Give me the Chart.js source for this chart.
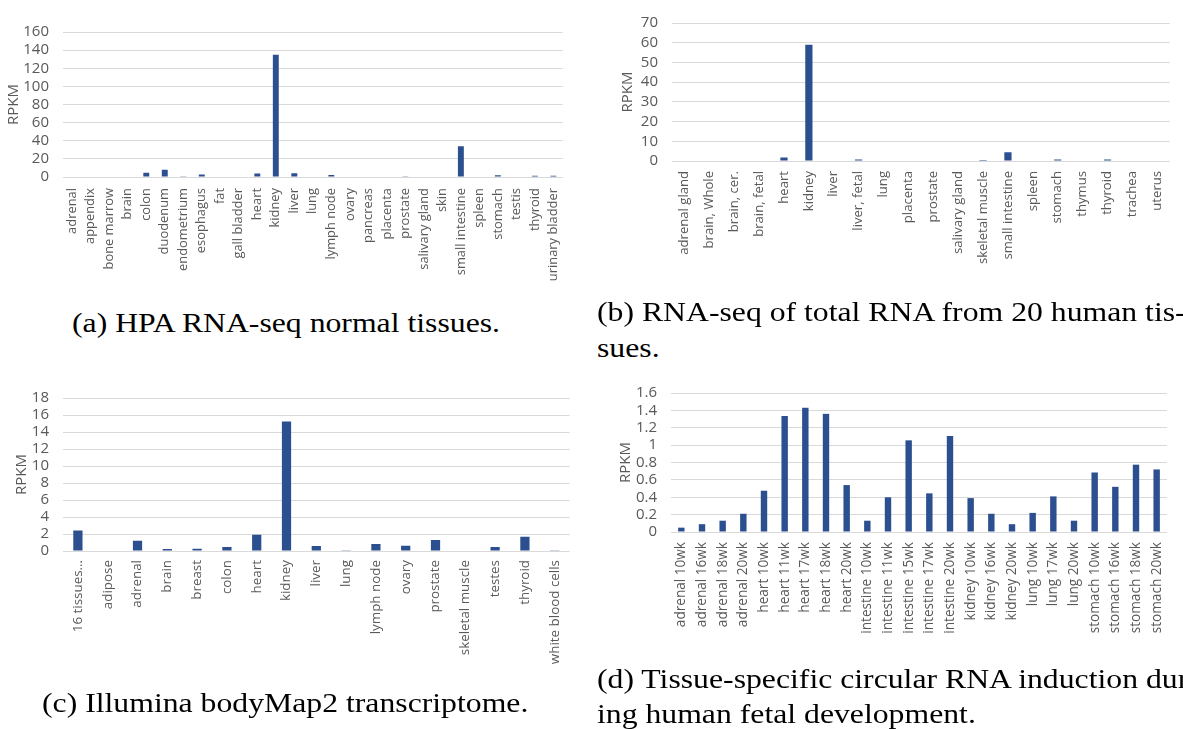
<!DOCTYPE html>
<html>
<head>
<meta charset="utf-8">
<script src="https://cdn.jsdelivr.net/npm/chart.js@4.4.1/dist/chart.umd.min.js"></script>
<style>
  body { margin: 0; width: 1183px; height: 729px; overflow: hidden; background: #fff; position: relative; }
  canvas { position: absolute; }
  .cap { position: absolute; font-family: "Liberation Serif", serif; font-size: 27px; line-height: 27px; color: #000; white-space: nowrap; transform-origin: 0 0; }
</style>
</head>
<body>
<canvas id="chartA" width="580" height="300" style="left:0;top:0"></canvas>
<canvas id="chartB" width="593" height="300" style="left:590px;top:0"></canvas>
<canvas id="chartC" width="580" height="359" style="left:0;top:370px"></canvas>
<canvas id="chartD" width="593" height="359" style="left:590px;top:370px"></canvas>

<div class="cap" style="left:72px;top:310px">(a) HPA RNA-seq normal tissues.</div>
<div class="cap" style="left:597px;top:299px">(b) RNA-seq of total RNA from 20 human tis-</div>
<div class="cap" style="left:597px;top:335px">sues.</div>
<div class="cap" style="left:42px;top:690px">(c) Illumina bodyMap2 transcriptome.</div>
<div class="cap" style="left:597px;top:666px">(d) Tissue-specific circular RNA induction dur-</div>
<div class="cap" style="left:597px;top:701px">ing human fetal development.</div>

<script>
// (a) HPA RNA-seq normal tissues
const hpaTissues = ["adrenal", "appendix", "bone marrow", "brain", "colon", "duodenum", "endometrium",
  "esophagus", "fat", "gall bladder", "heart", "kidney", "liver", "lung", "lymph node", "ovary",
  "pancreas", "placenta", "prostate", "salivary gland", "skin", "small intestine", "spleen",
  "stomach", "testis", "thyroid", "urinary bladder"];
const hpaRpkm = [0.5, 0.6, 0, 0, 4.8, 8, 0.3, 2.8, 0, 0, 3.8, 135, 4.2, 0, 2.3, 0.6,
  0, 0, 0.3, 0.6, 0, 34, 0, 1.8, 0.5, 1.3, 1.3];

// (b) RNA-seq of total RNA from 20 human tissues
const totalTissues = ["adrenal gland", "brain, Whole", "brain, cer.", "brain, fetal", "heart", "kidney",
  "liver", "liver, fetal", "lung", "placenta", "prostate", "salivary gland", "skeletal muscle",
  "small intestine", "spleen", "stomach", "thymus", "thyroid", "trachea", "uterus"];
const totalRpkm = [0.2, 0.2, 0, 0, 1.8, 59, 0, 0.7, 0.3, 0, 0.2, 0, 0.5, 4.4, 0, 0.7, 0, 0.7, 0, 0];

// (c) Illumina bodyMap2 transcriptome
const bodyMapTissues = ["16 tissues…", "adipose", "adrenal", "brain", "breast", "colon", "heart", "kidney",
  "liver", "lung", "lymph node", "ovary", "prostate", "skeletal muscle", "testes", "thyroid",
  "white blood cells"];
const bodyMapRpkm = [2.4, 0, 1.2, 0.25, 0.27, 0.47, 1.92, 15.25, 0.58, 0.08, 0.82, 0.62, 1.28, 0, 0.47, 1.68, 0.1];

// (d) fetal development
const fetalSamples = ["adrenal 10wk", "adrenal 16wk", "adrenal 18wk", "adrenal 20wk", "heart 10wk",
  "heart 11wk", "heart 17wk", "heart 18wk", "heart 20wk", "intestine 10wk", "intestine 11wk",
  "intestine 15wk", "intestine 17wk", "intestine 20wk", "kidney 10wk", "kidney 16wk", "kidney 20wk",
  "lung 10wk", "lung 17wk", "lung 20wk", "stomach 10wk", "stomach 16wk", "stomach 18wk", "stomach 20wk"];
const fetalRpkm = [0.05, 0.09, 0.13, 0.21, 0.475, 1.335, 1.43, 1.36, 0.54, 0.13, 0.40, 1.055, 0.445,
  1.105, 0.39, 0.21, 0.09, 0.22, 0.41, 0.13, 0.685, 0.52, 0.775, 0.72];

const barColor = "#2C4F8F";
const tickColor = "#595959";
const gridColor = "#D9D9D9";
const fontFamily = "'Open Sans', sans-serif";

Chart.defaults.font.family = fontFamily;

// font size that makes a given category label about as long as in the original figure
const measureCtx = document.createElement("canvas").getContext("2d");
function fitFont(text, targetLen) {
  measureCtx.font = "12px " + fontFamily;
  return +(12 * targetLen / measureCtx.measureText(text).width).toFixed(1);
}

function makeChart(id, labels, values, o) {
  return new Chart(document.getElementById(id), {
    type: "bar",
    data: {
      labels: labels,
      datasets: [{ data: values, backgroundColor: barColor, categoryPercentage: 1, barPercentage: o.bar }],
    },
    options: {
      responsive: false,
      animation: false,
      layout: { padding: { top: o.top, right: o.right, left: 0, bottom: 0 } },
      plugins: { legend: { display: false }, tooltip: { enabled: false } },
      scales: {
        x: {
          grid: { display: false, drawTicks: false },
          border: { display: false },
          ticks: { autoSkip: false, maxRotation: 90, minRotation: 90, padding: o.xPad, color: tickColor,
            font: { size: o.labelSize } },
          afterFit: (s) => { s.height = o.xHeight; },
        },
        y: {
          min: 0,
          max: o.max,
          grid: { color: gridColor, drawTicks: false },
          border: { display: false },
          ticks: { stepSize: o.step, autoSkip: false, padding: 14, color: tickColor, font: { size: 15 },
            callback: (v) => +v.toFixed(1) },
          title: { display: true, text: "RPKM", color: tickColor, font: { size: 15 },
            padding: { top: o.titlePad, bottom: 0 } },
          afterFit: (s) => { s.width = o.yWidth; },
        },
      },
    },
  });
}

makeChart("chartA", hpaTissues, hpaRpkm,
  { max: 160, step: 20, top: 32, right: 7, yWidth: 63, xHeight: 123, xPad: 11, titlePad: 4.5, bar: 0.32,
    labelSize: fitFont("urinary bladder", 93) });
makeChart("chartB", totalTissues, totalRpkm,
  { max: 70, step: 10, top: 8, right: 1, yWidth: 82, xHeight: 139, xPad: 10, titlePad: 29, bar: 0.29,
    labelSize: fitFont("skeletal muscle", 93) });
makeChart("chartC", bodyMapTissues, bodyMapRpkm,
  { max: 18, step: 2, top: 28, right: 7, yWidth: 63, xHeight: 178, xPad: 9, titlePad: 12.5, bar: 0.31,
    labelSize: fitFont("white blood cells", 104) });
makeChart("chartD", fetalSamples, fetalRpkm,
  { max: 1.6, step: 0.2, top: 16, right: 1, yWidth: 81, xHeight: 197, xPad: 10, titlePad: 27, bar: 0.31,
    labelSize: fitFont("intestine 10wk", 92) });

// stretch the serif captions to the width of the original typeset text
const caps = document.querySelectorAll(".cap");
const sx = 428 / caps[0].getBoundingClientRect().width;
caps.forEach((c) => { c.style.transform = "scaleX(" + sx + ")"; });
</script>
</body>
</html>
